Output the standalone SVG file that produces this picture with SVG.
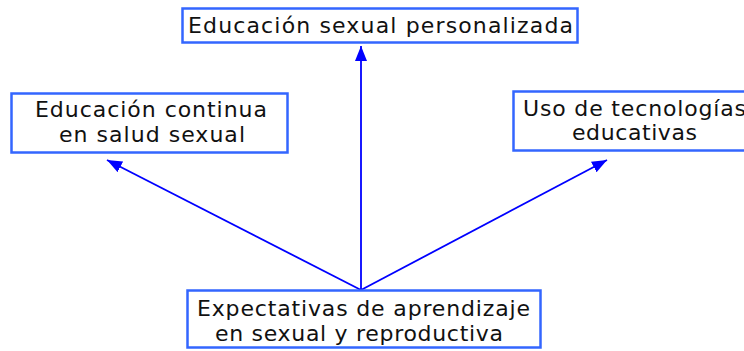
<svg xmlns="http://www.w3.org/2000/svg" width="744" height="351" viewBox="0 0 744 351">
<style>
.box{fill:#fff;stroke:#3366ff;stroke-width:2.5}
.t{font-family:"DejaVu Sans","Verdana",sans-serif;font-size:22px;fill:#111}
.c{stroke:#0000ff;stroke-width:1.8;fill:none}
</style>
<defs>
<marker id="ah" markerUnits="userSpaceOnUse" markerWidth="16" markerHeight="12" viewBox="0 0 16 12" refX="15" refY="6" orient="auto">
<path d="M0,0 L15,6 L0,12 Z" fill="#0000ff"/>
</marker>
</defs>
<rect width="744" height="351" fill="#fff"/>
<g id="connectors">
<line class="c" x1="361" y1="290" x2="361" y2="46" marker-end="url(#ah)"/>
<line class="c" x1="361" y1="290" x2="107" y2="160" marker-end="url(#ah)"/>
<line class="c" x1="361" y1="290" x2="607" y2="160" marker-end="url(#ah)"/>
</g>
<g id="top">
<rect class="box" x="182.5" y="8.5" width="395" height="34"/>
<text class="t" x="188" y="33" textLength="385" lengthAdjust="spacing">Educación sexual personalizada</text>
</g>
<g id="left">
<rect class="box" x="11.5" y="93.5" width="276" height="59"/>
<text class="t" x="35" y="117" textLength="232" lengthAdjust="spacing">Educación continua</text>
<text class="t" x="59" y="142" textLength="186" lengthAdjust="spacing">en salud sexual</text>
</g>
<g id="right">
<rect class="box" x="513.5" y="91.5" width="260" height="59"/>
<text class="t" x="523" y="116" textLength="223" lengthAdjust="spacing">Uso de tecnologías</text>
<text class="t" x="572" y="140" textLength="125" lengthAdjust="spacing">educativas</text>
</g>
<g id="bottom">
<rect class="box" x="187.5" y="290.5" width="353" height="57"/>
<text class="t" x="197" y="316" textLength="333" lengthAdjust="spacing">Expectativas de aprendizaje</text>
<text class="t" x="215" y="341" textLength="288" lengthAdjust="spacing">en sexual y reproductiva</text>
</g>
</svg>
